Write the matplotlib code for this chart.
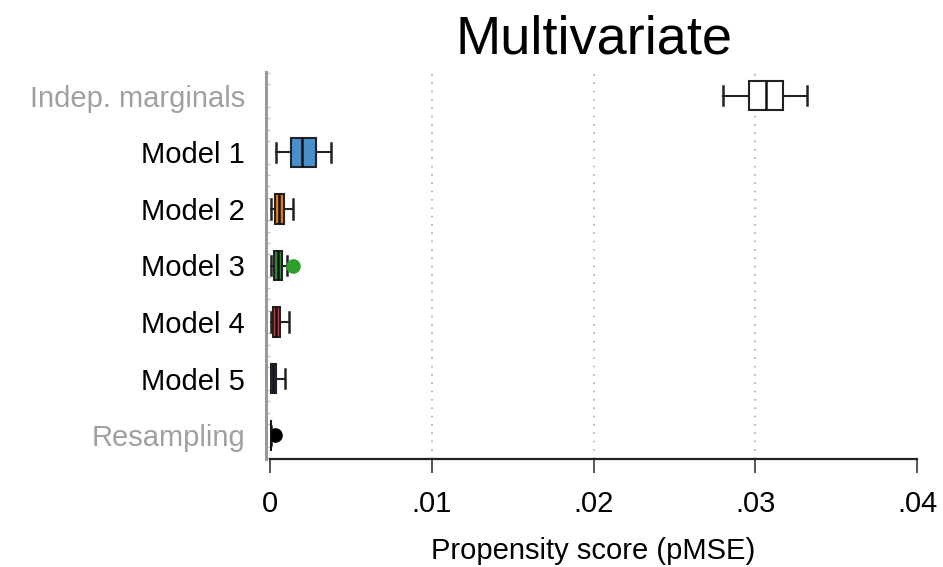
import matplotlib
matplotlib.use("Agg")
import matplotlib.pyplot as plt
import numpy as np

categories = ["Indep. marginals", "Model 1", "Model 2", "Model 3", "Model 4", "Model 5", "Resampling"]
label_colors = ["#a0a0a0", "black", "black", "black", "black", "black", "#a0a0a0"]
box_colors = ["white", "#4a8fc9", "#e07b26", "#2e8b3a", "#b8454a", "#56467e", "black"]
flier_colors = ["black", "black", "black", "#2ca02c", "black", "black", "black"]

whislo = [0.02802, 0.00037, 0.00006, 0.00006, 0.00005, 0.00002, 0.0]
q1 = [0.02963, 0.00130, 0.00030, 0.00025, 0.00020, 0.00006, 0.0]
med = [0.03068, 0.00198, 0.00058, 0.00048, 0.00037, 0.00018, 0.00002]
q3 = [0.03173, 0.00284, 0.00086, 0.00074, 0.00062, 0.00038, 0.00005]
whishi = [0.03321, 0.00377, 0.00142, 0.00105, 0.00117, 0.00093, 0.00008]
fliers = [[], [], [], [0.00142], [], [], [0.00028]]

xticks = [0, 0.01, 0.02, 0.03, 0.04]
xticklabels = ["0", ".01", ".02", ".03", ".04"]

plt.rcParams['font.family'] = ['Liberation Sans', 'DejaVu Sans']

fig = plt.figure(figsize=(9.43, 5.67), dpi=100)
ax = fig.add_axes([270/943, 1-459/567, (917-270)/943, (459-72)/567])

for i in range(len(categories)):
    stats = [dict(whislo=whislo[i], q1=q1[i], med=med[i], q3=q3[i], whishi=whishi[i], fliers=fliers[i])]
    ax.bxp(stats, positions=[i], widths=0.52, capwidths=0.34, vert=False, patch_artist=True,
           manage_ticks=False,
           boxprops=dict(facecolor=box_colors[i], edgecolor="#222222", linewidth=1.5),
           medianprops=dict(color="#111111", linewidth=1.8),
           whiskerprops=dict(color="#222222", linewidth=1.5),
           capprops=dict(color="#222222", linewidth=1.8),
           flierprops=dict(marker="o", markerfacecolor=flier_colors[i], markeredgecolor=flier_colors[i],
                           markersize=9.5, linestyle="none"),
           zorder=3)

ax.set_ylim(6.42, -0.42)
ax.set_xlim(0, 0.04)
ax.set_yticks(np.arange(-0.4, 6.45, 0.2), minor=True)
ax.tick_params(axis='y', which='minor', direction='in', length=3, width=1, color="#c8c8c8")
ax.set_yticks(range(len(categories)))
ax.set_yticklabels(categories)
ax.tick_params(axis='y', which='major', length=0, pad=15, labelsize=21)
ax.set_xticks(xticks)
ax.set_xticklabels(xticklabels)
ax.tick_params(axis='x', length=10, width=1.4, color="#555555", pad=12, labelsize=21)

for x in xticks[1:-1]:
    ax.axvline(x, color="#aaaaaa", linestyle=(0, (1, 4)), linewidth=1.2, zorder=1)

ax.spines['top'].set_visible(False)
ax.spines['right'].set_visible(False)
ax.spines['left'].set_color("#999999")
ax.spines['left'].set_linewidth(2.2)
ax.spines['left'].set_position(('outward', 3))
ax.spines['bottom'].set_color("#222222")
ax.spines['bottom'].set_linewidth(1.6)

ax.set_xlabel("Propensity score (pMSE)", fontsize=21, labelpad=14)
ax.set_title("Multivariate", fontsize=39, pad=13)

for lab, c in zip(ax.get_yticklabels(), label_colors):
    lab.set_color(c)

fig.savefig("out.png", dpi=100, facecolor="white")
